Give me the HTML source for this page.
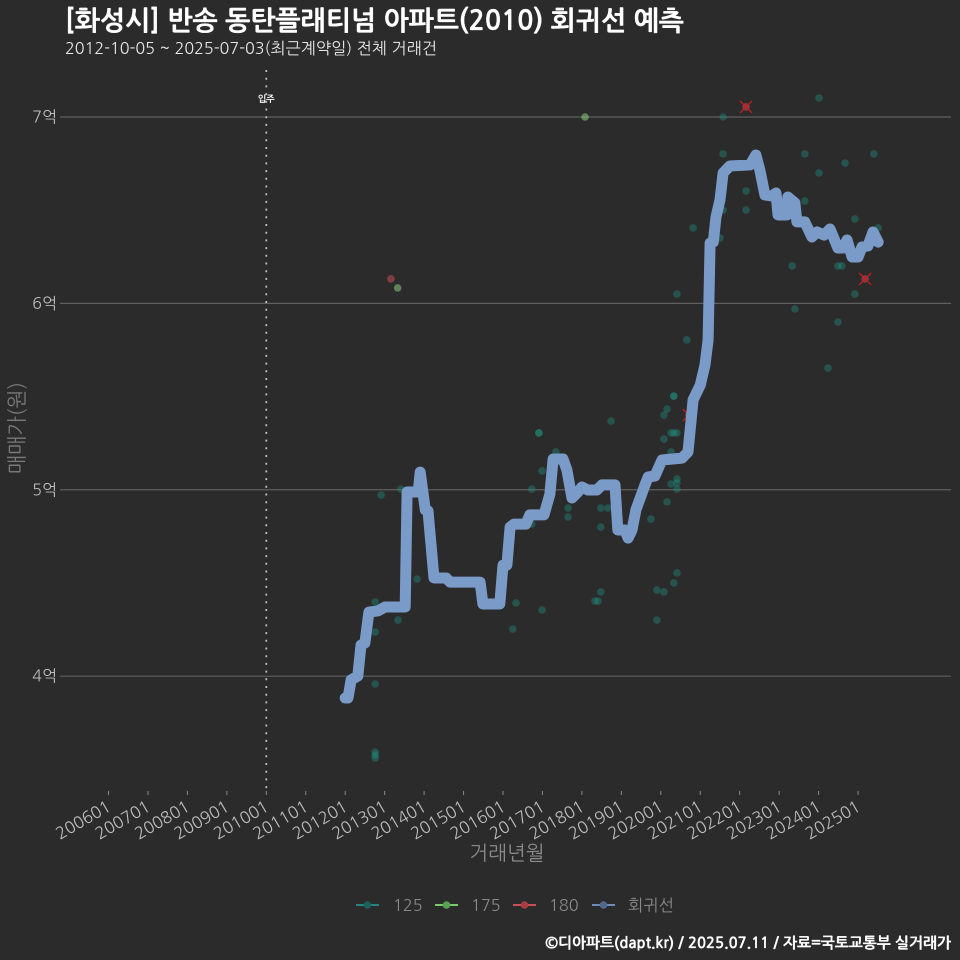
<!DOCTYPE html>
<html lang="ko">
<head>
<meta charset="utf-8">
<title>화성시 반송 동탄플래티넘 아파트 회귀선 예측</title>
<style>
html,body{margin:0;padding:0;background:#2b2b2c;}
svg{display:block;}
text{font-family:"NanumGothic","Liberation Sans","Noto Sans CJK KR",sans-serif;}
</style>
</head>
<body>
<svg id="chart" xmlns="http://www.w3.org/2000/svg" width="960" height="960" viewBox="0 0 960 960">
<rect width="960" height="960" fill="#2b2b2c"/>
<text x="65" y="30" font-size="26.75" font-weight="700" fill="#ffffff" stroke="#ffffff" stroke-width="0.35">[화성시] 반송 동탄플래티넘 아파트(2010) 회귀선 예측</text>
<text x="65" y="54" font-size="16.15" fill="#e6e6e6">2012-10-05 ~ 2025-07-03(최근계약일) 전체 거래건</text>
<g id="grid"></g>
<g id="xaxis"></g>
<g id="yaxis"></g>
<g id="marks"></g>
<text transform="translate(24,428) rotate(-90)" text-anchor="middle" font-size="20.5" fill="#7a7a7a">매매가(원)</text>
<text x="507" y="860" text-anchor="middle" font-size="20" fill="#8a8a8a">거래년월</text>
<g id="legend"></g>
<text x="951" y="948" text-anchor="end" font-size="14.9" font-weight="700" fill="#ffffff" stroke="#ffffff" stroke-width="0.25">©디아파트(dapt.kr) / 2025.07.11 / 자료=국토교통부 실거래가</text>
</svg>
<script>
const xTickYears = [2006,2007,2008,2009,2010,2011,2012,2013,2014,2015,2016,2017,2018,2019,2020,2021,2022,2023,2024,2025];
const xTickLabels = ['200601','200701','200801','200901','201001','201101','201201','201301','201401','201501','201601','201701','201801','201901','202001','202101','202201','202301','202401','202501'];
const yTickValues = [40000,50000,60000,70000];
const yTickLabels = ['4억','5억','6억','7억'];
const moveInYear = 2010;
const moveInLabel = '입주';

const regYears = [2012.00,2012.07,2012.15,2012.32,2012.40,2012.50,2012.60,2012.83,2013.01,2013.52,2013.57,2013.85,2013.90,2014.03,2014.10,2014.25,2014.56,2014.66,2015.42,2015.49,2015.92,2016.00,2016.10,2016.18,2016.28,2016.58,2016.68,2017.04,2017.19,2017.27,2017.52,2017.62,2017.75,2017.90,2018.00,2018.15,2018.38,2018.51,2018.84,2018.91,2019.09,2019.17,2019.27,2019.37,2019.60,2019.68,2019.85,2020.03,2020.54,2020.69,2020.82,2021.00,2021.12,2021.20,2021.25,2021.33,2021.40,2021.50,2021.58,2021.75,2022.26,2022.41,2022.51,2022.64,2022.82,2022.92,2022.97,2023.20,2023.22,2023.40,2023.45,2023.65,2023.83,2023.96,2024.14,2024.29,2024.49,2024.62,2024.72,2024.85,2025.00,2025.10,2025.25,2025.38,2025.51];
const regPrices = [38830,38830,39800,40010,41670,41780,43440,43500,43710,43710,49880,49880,50950,48920,48860,45270,45270,45050,45050,43870,43870,45960,45960,48000,48160,48160,48650,48650,49770,51650,51650,51060,49560,49880,50150,49990,49990,50260,50260,47840,47840,47410,47840,48920,50260,50690,50740,51600,51700,52030,54820,55620,56700,58040,63240,63290,64640,65550,67000,67370,67430,67960,67160,65820,65760,65920,64740,64740,65710,65390,64370,64370,63560,63830,63670,63990,62970,62970,63400,62490,62490,63030,63080,63830,63290];

const area125Years = [2012.76,2012.76,2012.76,2012.76,2012.76,2012.76,2012.91,2013.34,2013.41,2013.82,2016.25,2016.33,2016.73,2016.73,2016.91,2016.91,2016.99,2016.99,2017.34,2017.65,2017.65,2018.33,2018.41,2018.48,2018.48,2018.48,2018.66,2018.74,2019.75,2019.90,2019.90,2020.08,2020.08,2020.08,2020.16,2020.16,2020.26,2020.26,2020.26,2020.33,2020.33,2020.33,2020.41,2020.33,2020.41,2020.41,2020.41,2020.41,2020.41,2020.66,2020.82,2021.50,2021.58,2021.58,2021.58,2022.16,2022.16,2023.33,2023.40,2023.65,2023.65,2024.01,2024.01,2024.24,2024.49,2024.59,2024.49,2024.67,2024.92,2024.92,2025.40,2025.51];
const area125Prices = [35930,35770,35610,39580,42370,43980,49720,43010,50040,45210,42530,43930,48160,50040,53050,53050,51010,43550,52030,49020,48540,44030,44030,44520,49020,48000,49020,53690,48430,44620,43010,44520,54010,52720,54330,49350,53050,52030,50310,55030,55030,53050,53050,45000,45540,50580,50360,50040,60500,58040,64050,63510,70000,68020,65010,66030,65010,62010,59700,68020,65490,71020,67000,56530,62010,62010,59000,67530,64530,60500,68020,64050];

const area175Years = [2013.33,2018.08];
const area175Prices = [60830,70000];

const area180Years = [2013.16,2020.71,2022.16,2025.18];
const area180Prices = [61310,54010,70540,61310];
const latestFlagYears = [2020.71,2022.16,2025.18];
const latestFlagPrices = [54010,70540,61310];

const legendLabels = ['125','175','180','회귀선'];

function xScale(year){ return 108.5 + (year - 2006) * 39.45; }
function yScale(price){ return 117 + (70000 - price) / 53.65; }

const NS = 'http://www.w3.org/2000/svg';
function make(parent, tag, attrs, text){
  const el = document.createElementNS(NS, tag);
  for (const k in attrs) el.setAttribute(k, attrs[k]);
  if (text !== undefined) el.textContent = text;
  parent.appendChild(el);
  return el;
}
const grid = document.getElementById('grid');
const xaxis = document.getElementById('xaxis');
const yaxis = document.getElementById('yaxis');
const marks = document.getElementById('marks');
const legend = document.getElementById('legend');

yTickValues.forEach(function(v, i){
  const y = yScale(v);
  const line = make(grid, 'line', {x1:60, x2:951, y1:y, y2:y, stroke:'#5f5f5f', 'stroke-width':1.2});
  
  
  const label = make(yaxis, 'text', {x:57, y:y+5.5, 'text-anchor':'end', 'font-size':16, fill:'#bdbdbd'}, yTickLabels[i]);
  
  
});

xTickYears.forEach(function(yr, i){
  const x = xScale(yr);
  const tick = make(xaxis, 'line', {x1:x, x2:x, y1:791, y2:795, stroke:'#8a8a8a', 'stroke-width':1});
  
  
  const label = make(xaxis, 'text', {transform:'translate(' + (x+3.5) + ',810) rotate(-30)', 'text-anchor':'end', 'font-size':16.5, fill:'#bdbdbd'}, xTickLabels[i]);
  
  
});

const moveLine = make(marks, 'line', {x1:xScale(moveInYear), x2:xScale(moveInYear), y1:70, y2:793, stroke:'#c4c4c4', 'stroke-width':1.7, 'stroke-dasharray':'2 5.7'});


const moveLabel = make(marks, 'text', {x:xScale(moveInYear), y:102, 'text-anchor':'middle', 'font-size':9, 'font-weight':700, fill:'#ffffff'}, moveInLabel);



area125Years.forEach(function(yr, i){
  const c = make(marks, 'circle', {cx:xScale(yr), cy:yScale(area125Prices[i]), r:3.8, fill:'#1f9a88', 'fill-opacity':0.36});
  
  
});
area175Years.forEach(function(yr, i){
  const c = make(marks, 'circle', {cx:xScale(yr), cy:yScale(area175Prices[i]), r:3.8, fill:'#8fdc7f', 'fill-opacity':0.5});
  
  
});
area180Years.forEach(function(yr, i){
  const c = make(marks, 'circle', {cx:xScale(yr), cy:yScale(area180Prices[i]), r:3.8, fill:'#d8505c', 'fill-opacity':0.5});
  
  
});
latestFlagYears.forEach(function(yr, i){
  const cx = xScale(yr), cy = yScale(latestFlagPrices[i]);
  const d = 'M' + (cx-6) + ' ' + (cy-6) + 'L' + (cx+6) + ' ' + (cy+6) + 'M' + (cx-6) + ' ' + (cy+6) + 'L' + (cx+6) + ' ' + (cy-6);
  const m = make(marks, 'path', {d:d, stroke:'#c81e1e', 'stroke-width':1.3, fill:'none'});
  
  
});

const regPath = regYears.map(function(yr, i){
  return (i ? 'L' : 'M') + xScale(yr).toFixed(1) + ' ' + yScale(regPrices[i]).toFixed(1);
}).join('');
const reg = make(marks, 'path', {d:regPath, fill:'none', stroke:'#7a9bc8', 'stroke-width':11, 'stroke-linecap':'round', 'stroke-linejoin':'round'});



const legendLine = ['#2a8f92','#86e278','#e0565f','#7a9bca'];
const legendDot = ['#1c5f5c','#5aa052','#a83c44','#4f6a8c'];
const legendKeyX = [356,435,513,592];
const legendTextX = [393,471,549,628];
legendLabels.forEach(function(lbl, i){
  const g = make(legend, 'g', {});
  
  
  make(g, 'line', {x1:legendKeyX[i], x2:legendKeyX[i]+23, y1:905, y2:905, stroke:legendLine[i], 'stroke-width':1.8});
  make(g, 'circle', {cx:legendKeyX[i]+11.5, cy:905, r:3.8, fill:legendDot[i]});
  make(g, 'text', {x:legendTextX[i], y:911, 'font-size':16.3, fill:'#8a8a8a'}, lbl);
});
</script>
</body>
</html>
